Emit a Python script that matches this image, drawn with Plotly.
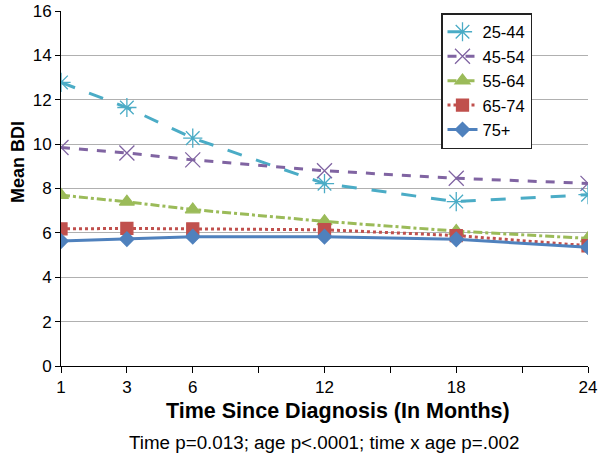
import plotly.graph_objects as go

# Data
months = ["1", "3", "6", "12", "18", "24"]
axis_categories = ["1", "3", "6", "9", "12", "15", "18", "21", "24"]
axis_ticktext = ["1", "3", "6", "", "12", "", "18", "", "24"]

age_groups = ["25-44", "45-54", "55-64", "65-74", "75+"]
bdi_25_44 = [12.78, 11.65, 10.27, 8.22, 7.41, 7.72]
bdi_45_54 = [9.85, 9.6, 9.29, 8.8, 8.46, 8.23]
bdi_55_64 = [7.7, 7.4, 7.05, 6.52, 6.08, 5.75]
bdi_65_74 = [6.18, 6.2, 6.18, 6.14, 5.88, 5.42]
bdi_75p = [5.63, 5.72, 5.83, 5.83, 5.71, 5.35]

series_values = [bdi_25_44, bdi_45_54, bdi_55_64, bdi_65_74, bdi_75p]

colors = ["#4BACC6", "#8064A2", "#9BBB59", "#C0504D", "#4F81BD"]
dashes = ["longdash", "dash", "dashdot", "dot", "solid"]
symbols = ["asterisk-open", "x-thin-open", "triangle-up", "square", "diamond"]
msizes = [16, 15, 13, 12, 11]

fig = go.Figure()
for name, vals, c, d, s, ms in zip(age_groups, series_values, colors, dashes, symbols, msizes):
    fig.add_trace(go.Scatter(
        x=months, y=vals, name=name, mode="lines+markers", legendgroup=name,
        line=dict(color=c, width=3, dash=d),
        marker=dict(symbol=s, size=ms, color=c, line=dict(color=c, width=1.3)),
    ))

font_family = "Liberation Sans, Arial, sans-serif"

W, H = 600, 460
L, R, T, B = 61, 12, 11, 94
pw, ph = W - L - R, H - T - B

def px_x(px):
    return (px - L) / pw

def px_y(py):
    return (H - B - py) / ph

fig.update_layout(
    width=W, height=H,
    margin=dict(l=L, r=R, t=T, b=B, autoexpand=False),
    paper_bgcolor="white", plot_bgcolor="white",
    font=dict(family=font_family, size=17, color="black"),
    showlegend=True,
    legend=dict(
        x=px_x(441), y=px_y(13), xanchor="left", yanchor="top",
        bgcolor="white", bordercolor="#222222", borderwidth=1.5,
        font=dict(size=16.5, color="black"),
        tracegroupgap=0, traceorder="grouped",
        itemwidth=30,
    ),
    xaxis=dict(
        type="category", automargin=False,
        categoryorder="array", categoryarray=axis_categories,
        tickmode="array", tickvals=axis_categories, ticktext=axis_ticktext,
        range=[0, 8],
        showline=True, linecolor="black", linewidth=1,
        ticks="outside", ticklen=6, tickcolor="black",
        showgrid=False, zeroline=False,
        tickfont=dict(size=17),
    ),
    yaxis=dict(
        range=[0, 16], dtick=2, automargin=False,
        showline=True, linecolor="black", linewidth=1,
        ticks="outside", ticklen=5, tickcolor="black",
        showgrid=True, gridcolor="#B0B0B0", gridwidth=1,
        zeroline=False,
        tickfont=dict(size=17),
    ),
    annotations=[
        dict(text="<b>Mean BDI</b>", xref="paper", yref="paper",
             x=px_x(18), y=px_y(162), xanchor="center", yanchor="middle",
             textangle=-90, showarrow=False, font=dict(size=18)),
        dict(text="<b>Time Since Diagnosis (In Months)</b>", xref="paper", yref="paper",
             x=px_x(338), y=px_y(411), xanchor="center", yanchor="middle",
             showarrow=False, font=dict(size=21.5)),
        dict(text="Time p=0.013; age p<.0001; time x age p=.002", xref="paper", yref="paper",
             x=px_x(324), y=px_y(442), xanchor="center", yanchor="middle",
             showarrow=False, font=dict(size=18.8)),
    ],
)

# remove the default 8px page margin so the figure sits at the window's top-left corner
fig.write_html("out.html", config={"displayModeBar": False},
               post_script="document.body.style.margin='0';")
